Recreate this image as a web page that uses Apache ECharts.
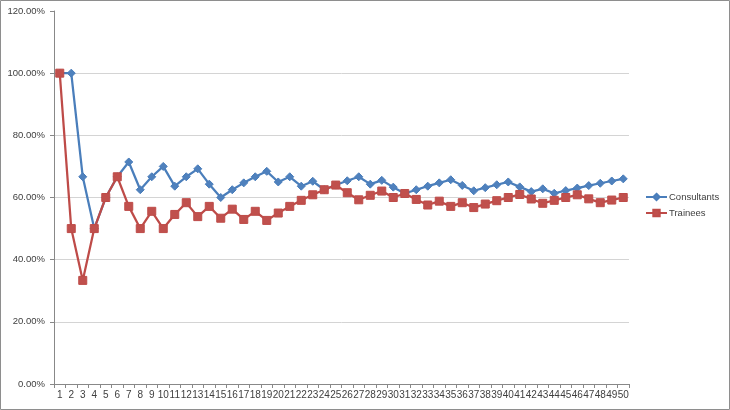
<!DOCTYPE html>
<html><head><meta charset="utf-8">
<script src="https://cdn.jsdelivr.net/npm/echarts@6/dist/echarts.min.js"></script>
<style>html,body{margin:0;padding:0;background:#fff}#c{width:730px;height:410px}</style>
</head><body><div id="c"></div>
<script>
const categories = ['1','2','3','4','5','6','7','8','9','10','11','12','13','14','15','16','17','18','19','20','21','22','23','24','25','26','27','28','29','30','31','32','33','34','35','36','37','38','39','40','41','42','43','44','45','46','47','48','49','50'];
const consultants = [1.0,1.0,0.6667,0.5,0.6,0.6667,0.7143,0.625,0.6667,0.7,0.6364,0.6667,0.6923,0.6429,0.6,0.625,0.6471,0.6667,0.6842,0.65,0.6667,0.6364,0.6522,0.625,0.64,0.6538,0.6667,0.6429,0.6552,0.6333,0.6129,0.625,0.6364,0.6471,0.6571,0.6389,0.6216,0.6316,0.641,0.65,0.6341,0.619,0.6279,0.6136,0.6222,0.6304,0.6383,0.6458,0.6531,0.66];
const trainees = [1.0,0.5,0.3333,0.5,0.6,0.6667,0.5714,0.5,0.5556,0.5,0.5455,0.5833,0.5385,0.5714,0.5333,0.5625,0.5294,0.5556,0.5263,0.55,0.5714,0.5909,0.6087,0.625,0.64,0.6154,0.5926,0.6071,0.6207,0.6,0.6129,0.5938,0.5758,0.5882,0.5714,0.5833,0.5676,0.5789,0.5897,0.6,0.6098,0.5952,0.5814,0.5909,0.6,0.6087,0.5957,0.5833,0.5918,0.6];
const seriesNames = ['Consultants','Trainees'];

const chart = echarts.init(document.getElementById('c'), null, {renderer:'canvas'});
const font = 'Liberation Sans, Arial, sans-serif';
chart.setOption({
  animation:false,
  backgroundColor:'#fff',
  graphic:[{type:'rect',shape:{x:0.5,y:0.5,width:729,height:409},style:{fill:'none',stroke:'#8e8e8e',lineWidth:1},silent:true,z:-1}],
  grid:{left:54,right:101,top:11,bottom:26,containLabel:false},
  legend:{
    orient:'vertical',left:640,top:187,itemWidth:21,itemHeight:8,itemGap:6,
    textStyle:{fontFamily:font,fontSize:9.5,color:'#404040',padding:[0,0,0,-3]},
    data:seriesNames
  },
  xAxis:{
    type:'category',data:categories,boundaryGap:true,
    axisLine:{lineStyle:{color:'#888',width:1}},
    axisTick:{show:true,interval:0,length:4,lineStyle:{color:'#888'}},
    axisLabel:{interval:0,margin:6,fontFamily:font,fontSize:10,color:'#404040'},
    splitLine:{show:false}
  },
  yAxis:{
    type:'value',min:0,max:1.2,interval:0.2,
    axisLine:{show:true,lineStyle:{color:'#888',width:1}},
    axisTick:{show:true,length:4,lineStyle:{color:'#888'}},
    axisLabel:{margin:9,fontFamily:font,fontSize:9.5,color:'#404040',formatter:v=>(v*100).toFixed(2)+'%'},
    splitLine:{show:true,lineStyle:{color:['#d4d4d4','#d4d4d4','#d4d4d4','#d4d4d4','#d4d4d4','#d4d4d4','rgba(0,0,0,0)'],width:1}}
  },
  series:[
    {name:seriesNames[0],type:'line',data:consultants,symbol:'diamond',symbolSize:8,
     lineStyle:{color:'#4a7ebb',width:2.25},itemStyle:{color:'#4f81bd',borderColor:'#4a7ebb',borderWidth:1},z:2},
    {name:seriesNames[1],type:'line',data:trainees,symbol:'rect',symbolSize:8,
     lineStyle:{color:'#be4b48',width:2.25},itemStyle:{color:'#c0504d',borderColor:'#be4b48',borderWidth:1},z:3}
  ]
});
</script></body></html>
